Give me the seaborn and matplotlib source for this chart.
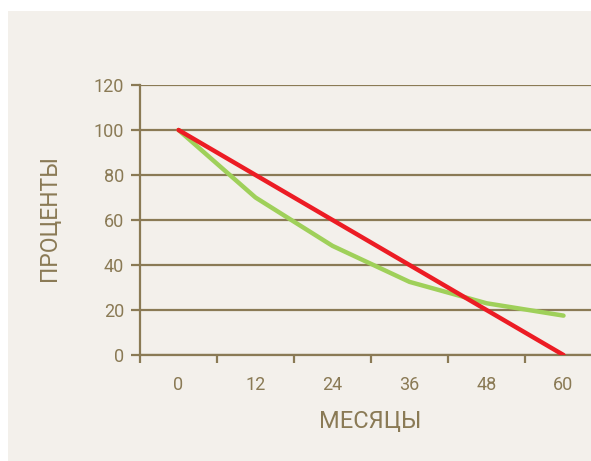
import matplotlib
matplotlib.use("Agg")
import matplotlib.pyplot as plt
from matplotlib.patches import Rectangle
import pandas as pd
import seaborn as sns

# Data
months = ["0", "12", "24", "36", "48", "60"]
green_values = [100, 70, 48.5, 32.5, 23, 17.5]
red_values = [100, 80, 60, 40, 20, 0]
y_ticks = [0, 20, 40, 60, 80, 100, 120]

BG = "#f3f0eb"
INK = "#8a7a55"
RED = "#ec1c24"
GREEN = "#9fd05a"

sns.set_theme(style="white")
plt.rcParams["font.family"] = ["Roboto", "DejaVu Sans"]

W, H = 591, 461
fig = plt.figure(figsize=(W / 100, H / 100), dpi=100)
fig.patch.set_facecolor("white")
panel = Rectangle((8 / W, 0), 1 - 8 / W, (H - 11) / H,
                  transform=fig.transFigure, facecolor=BG,
                  edgecolor="none", zorder=-10)
fig.add_artist(panel)

ax = fig.add_axes([140 / W, (H - 355) / H, (W - 140) / W, (355 - 85) / H])
ax.set_facecolor(BG)
ax.set_zorder(1)

df = pd.DataFrame({"month": months * 2,
                   "value": green_values + red_values,
                   "series": ["green"] * len(months) + ["red"] * len(months)})
sns.lineplot(data=df, x="month", y="value", hue="series",
             palette={"green": GREEN, "red": RED}, linewidth=3.2,
             legend=False, ax=ax, zorder=3, sort=False)

ax.set_ylim(0, 120)
ax.set_xlim(-0.5, -0.5 + (W - 140) / 77)
ax.set_yticks(y_ticks)
ax.set_yticklabels([str(v) for v in y_ticks])
ax.yaxis.grid(True, color=INK, linewidth=1.6)
ax.xaxis.grid(False)

# tick marks at the band borders, labels at band centres
ax.set_xticks([i - 0.5 for i in range(len(months))])
ax.set_xticklabels([])
ax.set_xticks(range(len(months)), minor=True)
ax.set_xticklabels(months, minor=True)
ax.tick_params(axis="x", which="major", direction="out", length=6,
               width=1.6, color=INK, bottom=True)
ax.tick_params(axis="x", which="minor", length=0, pad=15,
               labelsize=13, labelcolor=INK)
ax.tick_params(axis="y", direction="out", length=6.5, width=1.6,
               color=INK, left=True, pad=5, labelsize=13, labelcolor=INK)

for side in ("top", "right"):
    ax.spines[side].set_visible(False)
for side in ("left", "bottom"):
    ax.spines[side].set_color(INK)
    ax.spines[side].set_linewidth(1.6)
    ax.spines[side].set_zorder(2)

ax.set_xlabel("МЕСЯЦЫ", fontsize=17, color=INK)
ax.set_ylabel("ПРОЦЕНТЫ", fontsize=16.5, color=INK)
ax.xaxis.set_label_coords((370 - 140) / (W - 140), -(421 - 355) / (355 - 85))
ax.yaxis.set_label_coords(-(140 - 50) / (W - 140), (355 - 218) / (355 - 85))
ax.xaxis.label.set_va("center")
ax.yaxis.label.set_va("center")

fig.savefig("out.png", dpi=100, facecolor=fig.get_facecolor())
